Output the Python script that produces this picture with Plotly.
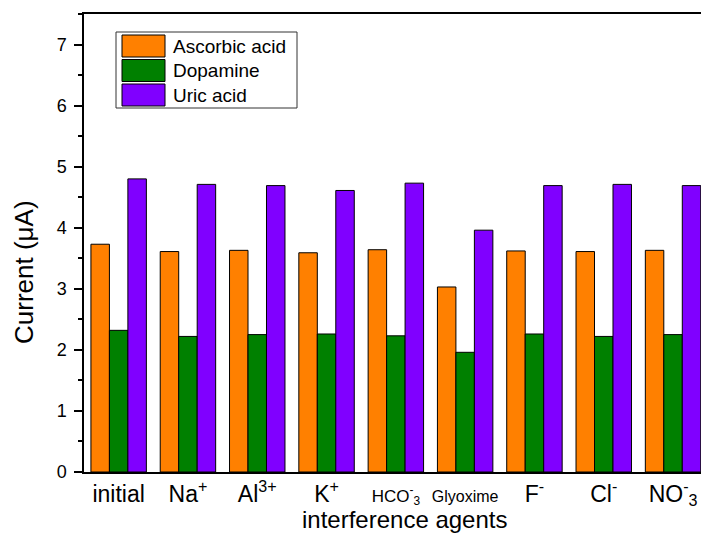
import plotly.graph_objects as go

categories = ["initial", "Na<sup>+</sup>", "Al<sup>3+</sup>", "K<sup>+</sup>",
              "<span style='font-size:17px'>HCO<sup>-</sup><sub>3</sub></span>",
              "<span style='font-size:16px'>Glyoxime</span>",
              "F<sup>-</sup>", "Cl<sup>-</sup>", "NO<sup>-</sup><sub>3</sub>"]
series_names = ["Ascorbic acid", "Dopamine", "Uric acid"]
ascorbic = [3.73, 3.61, 3.63, 3.59, 3.64, 3.03, 3.62, 3.61, 3.63]
dopamine = [2.32, 2.22, 2.25, 2.26, 2.23, 1.96, 2.26, 2.22, 2.25]
uric = [4.80, 4.71, 4.69, 4.61, 4.73, 3.96, 4.69, 4.71, 4.69]
colors = ["#FF8000", "#008000", "#8000FF"]

W, H = 701, 533
L, T, B = 84, 14, 61
PW = W - L
PH = H - T - B

def px(x):
    return (x - L) / PW

def py(y):
    return (H - B - y) / PH

xs = list(range(len(categories)))
fig = go.Figure()
for name, vals, col in zip(series_names, [ascorbic, dopamine, uric], colors):
    fig.add_trace(go.Bar(x=xs, y=vals, name=name, marker_color=col,
                         marker_line_color="black", marker_line_width=1,
                         showlegend=False))

font_fam = "Arial, Liberation Sans, sans-serif"

shapes = []
annotations = []
# custom legend box
shapes.append(dict(type="rect", xref="paper", yref="paper",
                   x0=px(116), x1=px(297), y0=py(108), y1=py(32),
                   line=dict(color="#333333", width=1), fillcolor="white"))
for i, (name, col) in enumerate(zip(series_names, colors)):
    top = 35 + i * 24.5
    shapes.append(dict(type="rect", xref="paper", yref="paper",
                       x0=px(122), x1=px(165), y0=py(top + 22), y1=py(top),
                       line=dict(color="black", width=1), fillcolor=col))
    annotations.append(dict(text=name, xref="paper", yref="paper",
                            x=px(171), y=py(top + 11), xanchor="left", yanchor="middle",
                            showarrow=False, font=dict(size=19, color="black", family=font_fam)))

annotations.append(dict(text="Current (μA)", xref="paper", yref="paper",
                        x=px(24), y=py(272), xanchor="center", yanchor="middle",
                        textangle=-90, showarrow=False,
                        font=dict(size=26, color="black", family=font_fam)))
annotations.append(dict(text="interference agents", xref="paper", yref="paper",
                        x=px(404), y=py(519), xanchor="center", yanchor="middle",
                        showarrow=False,
                        font=dict(size=24, color="black", family=font_fam)))

fig.update_layout(
    width=W, height=H,
    margin=dict(l=L, r=0, t=T, b=B, pad=0),
    paper_bgcolor="white", plot_bgcolor="white",
    barmode="group", bargap=0.2, bargroupgap=0,
    font=dict(family=font_fam, color="black"),
    shapes=shapes, annotations=annotations,
    xaxis=dict(range=[-0.5, -0.5 + PW / 69.3], tickmode="array", tickvals=xs,
               ticktext=categories, showgrid=False, zeroline=False,
               showline=True, linecolor="black", linewidth=2, mirror=True,
               ticks="", tickfont=dict(size=23, color="black"),
               ticklabelstandoff=0),
    yaxis=dict(range=[0, 7.5], dtick=1, tick0=0, showgrid=False, zeroline=False,
               showline=True, linecolor="black", linewidth=1.5, mirror=False,
               ticks="outside", ticklen=8, tickwidth=1.5, tickcolor="black",
               tickfont=dict(size=18, color="black"), ticklabelstandoff=4,
               minor=dict(dtick=0.5, ticks="outside", ticklen=4, tickwidth=1.5,
                          tickcolor="black", showgrid=False)),
)

fig.write_html("out.html")
